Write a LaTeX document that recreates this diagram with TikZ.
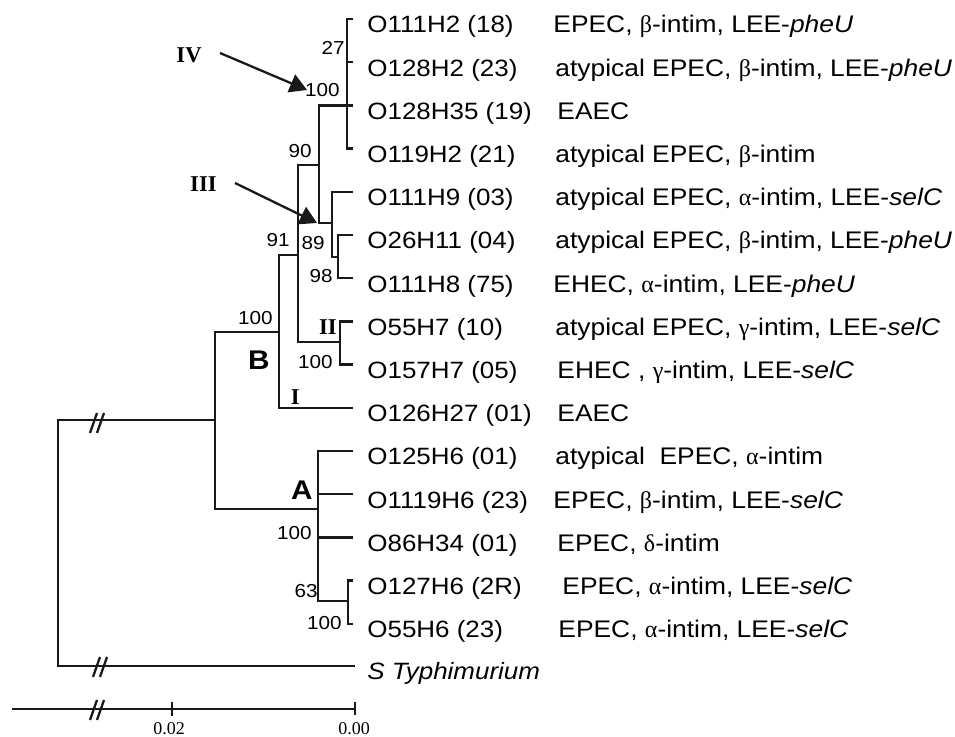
\documentclass[tikz,border=0pt]{standalone}
\usepackage{fontspec}
\setmainfont{Liberation Sans}[FakeStretch=1.1]
\newfontfamily\grk{Liberation Serif}
\newfontfamily\tms{Liberation Serif}
\usepackage{tikz}
\usetikzlibrary{arrows.meta}

\begin{document}
\begin{tikzpicture}[
  x=0.5pt,y=-0.5pt,
  line/.style={draw=black!90,line width=1.15pt},
  leaf/.style={anchor=base west,inner sep=0pt,font=\fontsize{11.8}{14}\selectfont},
  info/.style={anchor=base west,inner sep=0pt,font=\fontsize{12}{14}\selectfont},
  boot/.style={anchor=base east,inner sep=0pt,font=\fontsize{9.4}{11}\selectfont},
  clade/.style={anchor=base east,inner sep=0pt,font=\fontsize{13.5}{15}\selectfont\bfseries},
  grp/.style={anchor=base east,inner sep=0pt,font=\tms\fontsize{11.3}{13}\selectfont\bfseries},
  scl/.style={anchor=base,inner sep=0pt,font=\tms\fontsize{9}{11}\selectfont},
  arr/.style={draw=black!90,line width=1.15pt,-{Triangle[length=8.5pt,width=9.5pt]}},
  brk/.pic={\draw[line] (0,-10) -- (-7,10) (7,-10) -- (0,10);}
]
\useasboundingbox (0,0) rectangle (955,737);

% leaf tips
\coordinate (t1) at (353,19);
\coordinate (t2) at (353,62.2);
\coordinate (t3) at (353,105.4);
\coordinate (t4) at (353,148.6);
\coordinate (t5) at (353,191.8);
\coordinate (t6) at (353,235);
\coordinate (t7) at (353,278.2);
\coordinate (t8) at (353,321.4);
\coordinate (t9) at (353,364.6);
\coordinate (t10) at (353,407.8);
\coordinate (t11) at (353,451);
\coordinate (t12) at (353,494.2);
\coordinate (t13) at (353,537.4);
\coordinate (t14) at (353,580.6);
\coordinate (t15) at (353,623.8);
\coordinate (t16) at (355,666);

% strains
\node[leaf] (s1) at (367,33) {O111H2 (18)};
\node[leaf] (s2) at (367,76.2) {O128H2 (23)};
\node[leaf] (s3) at (367,119.4) {O128H35 (19)};
\node[leaf] (s4) at (367,162.6) {O119H2 (21)};
\node[leaf] (s5) at (367,205.8) {O111H9 (03)};
\node[leaf] (s6) at (367,249) {O26H11 (04)};
\node[leaf] (s7) at (367,292.2) {O111H8 (75)};
\node[leaf] (s8) at (367,335.4) {O55H7 (10)};
\node[leaf] (s9) at (367,378.6) {O157H7 (05)};
\node[leaf] (s10) at (367,421.8) {O126H27 (01)};
\node[leaf] (s11) at (367,465) {O125H6 (01)};
\node[leaf] (s12) at (367,508.2) {O1119H6 (23)};
\node[leaf] (s13) at (367,551.4) {O86H34 (01)};
\node[leaf] (s14) at (367,594.6) {O127H6 (2R)};
\node[leaf] (s15) at (367,637.8) {O55H6 (23)};
\node[leaf] (s16) at (367,680) {\itshape S Typhimurium};

% pathotypes
\node[info] (d1) at (553,33) {EPEC, {\grk β}-intim, LEE-\textit{pheU}};
\node[info] (d2) at (555,76.2) {atypical EPEC, {\grk β}-intim, LEE-\textit{pheU}};
\node[info] (d3) at (557,119.4) {EAEC};
\node[info] (d4) at (555,162.6) {atypical EPEC, {\grk β}-intim};
\node[info] (d5) at (555,205.8) {atypical EPEC, {\grk α}-intim, LEE-\textit{selC}};
\node[info] (d6) at (555,249) {atypical EPEC, {\grk β}-intim, LEE-\textit{pheU}};
\node[info] (d7) at (553,292.2) {EHEC, {\grk α}-intim, LEE-\textit{pheU}};
\node[info] (d8) at (555,335.4) {atypical EPEC, {\grk γ}-intim, LEE-\textit{selC}};
\node[info] (d9) at (557,378.6) {EHEC , {\grk γ}-intim, LEE-\textit{selC}};
\node[info] (d10) at (557,421.8) {EAEC};
\node[info] (d11) at (555,465) {atypical\ \ EPEC, {\grk α}-intim};
\node[info] (d12) at (553,508.2) {EPEC, {\grk β}-intim, LEE-\textit{selC}};
\node[info] (d13) at (557,551.4) {EPEC, {\grk δ}-intim};
\node[info] (d14) at (562,594.6) {EPEC, {\grk α}-intim, LEE-\textit{selC}};
\node[info] (d15) at (558,637.8) {EPEC, {\grk α}-intim, LEE-\textit{selC}};

% internal nodes
\coordinate (nIV) at (347,105.4);
\coordinate (n98) at (338,257);
\coordinate (n89) at (332,223);
\coordinate (n90) at (319,165);
\coordinate (nII) at (340,342);
\coordinate (n91) at (298,255);
\coordinate (nB) at (279,332);
\coordinate (n63) at (348,601);
\coordinate (nA) at (318,509);
\coordinate (nIn) at (215,420);
\coordinate (root) at (58,543);

% branches
\draw[line] (nIV) |- (t1);
\draw[line] (nIV) |- (t2);
\draw[line] (nIV) -- (t3);
\draw[line] (nIV) |- (t4);
\draw[line] (n98) |- (t6);
\draw[line] (n98) |- (t7);
\draw[line] (n89) |- (t5);
\draw[line] (n89) |- (n98);
\draw[line] (n90) |- (nIV);
\draw[line] (n90) |- (n89);
\draw[line] (nII) |- (t8);
\draw[line] (nII) |- (t9);
\draw[line] (n91) |- (n90);
\draw[line] (n91) |- (nII);
\draw[line] (nB) |- (n91);
\draw[line] (nB) |- (t10);
\draw[line] (n63) |- (t14);
\draw[line] (n63) |- (t15);
\draw[line] (nA) |- (t11);
\draw[line] (nA) |- (t12);
\draw[line] (nA) |- (t13);
\draw[line] (nA) |- (n63);
\draw[line] (nIn) |- (nB);
\draw[line] (nIn) |- (nA);
\draw[line] (root) |- (nIn);
\draw[line] (root) |- (t16);
\pic at (97,423) {brk};
\pic at (100,667) {brk};

% bootstrap values
\node[boot] (b27) at (345,55) {27};
\node[boot] (b100a) at (340,97) {100};
\node[boot] (b90) at (312,158) {90};
\node[boot] (b91) at (290,247) {91};
\node[boot] (b89) at (325,250) {89};
\node[boot] (b98) at (333,283) {98};
\node[boot] (b100b) at (273,325) {100};
\node[boot] (b100c) at (333,369) {100};
\node[boot] (b100d) at (312,540) {100};
\node[boot] (b63) at (318,598) {63};
\node[boot] (b100e) at (342,630) {100};

% clusters and groups
\node[clade] (cB) at (270,370) {B};
\node[clade] (cA) at (313,500) {A};
\node[grp] (rIV) at (202,63) {IV};
\node[grp] (rIII) at (217,192) {III};
\node[grp] (rII) at (337,335) {II};
\node[grp] (rI) at (300,405) {I};

\coordinate (aIV) at (220,53);
\coordinate (tIV) at (307,90);
\coordinate (aIII) at (235,183);
\coordinate (tIII) at (317,223);
\draw[arr] (aIV) -- (tIV);
\draw[arr] (aIII) -- (tIII);

% scale bar
\coordinate (sb0) at (12,709);
\coordinate (sb2) at (172,709);
\coordinate (sb3) at (355,709);
\draw[line] (sb0) -- (sb3);
\draw[line] ([yshift=3.5pt]sb2) -- ([yshift=-3.5pt]sb2);
\draw[line] ([yshift=3.5pt]sb3) -- ([yshift=-3pt]sb3);
\pic at (97,710) {brk};
\node[scl] (l02) at (169,735) {0.02};
\node[scl] (l00) at (354,735) {0.00};
\end{tikzpicture}
\end{document}
